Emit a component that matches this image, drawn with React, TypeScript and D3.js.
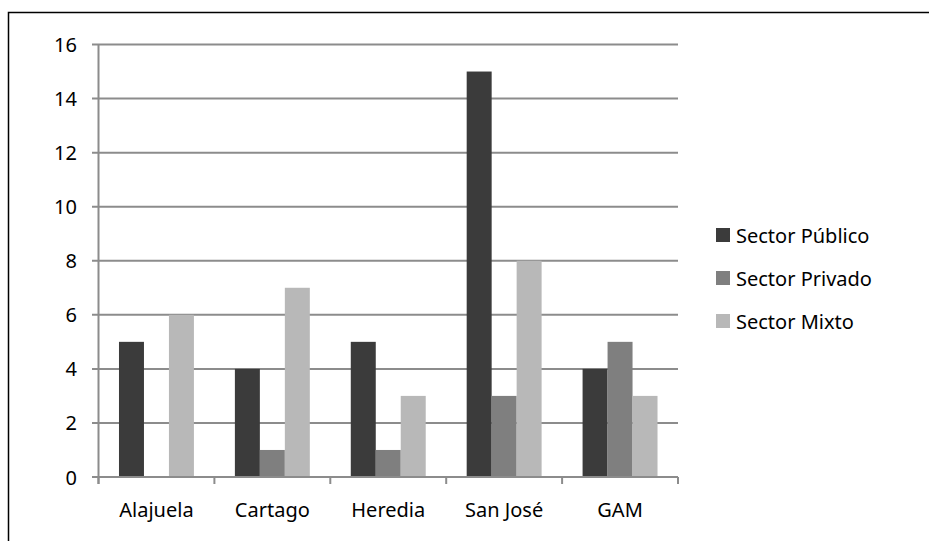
import React from "react";
import * as d3 from "d3";

const categories = ["Alajuela", "Cartago", "Heredia", "San José", "GAM"];
const seriesNames = ["Sector Público", "Sector Privado", "Sector Mixto"];
const publico = [5, 4, 5, 15, 4];
const privado = [0, 1, 1, 3, 5];
const mixto = [6, 7, 3, 8, 3];
const yTicks = [0, 2, 4, 6, 8, 10, 12, 14, 16];
const colors = ["#3b3b3b", "#7f7f7f", "#b8b8b8"];

export default function App() {
  const W = 929, H = 541;
  const left = 98.5, right = 678, top = 44.5, bottom = 477;
  const font = "'Noto Sans', 'Open Sans', sans-serif";
  const series = [publico, privado, mixto];

  const x = d3.scaleBand<string>().domain(categories).range([left, right]).paddingInner(0).paddingOuter(0);
  const inner = d3.scaleBand<number>().domain([0, 1, 2]).range([0, x.bandwidth()]).paddingInner(0).paddingOuter(0.82);
  const y = d3.scaleLinear().domain([0, 16]).range([bottom, top]);

  const catBounds = d3.range(categories.length + 1).map((i) => left + i * x.step());

  return (
    <div style={{ position: "absolute", left: 0, top: 0 }}>
      <svg width={W} height={H} style={{ display: "block", background: "#fff" }} fontFamily={font}>
        <rect x={8.5} y={12.5} width={W + 10} height={H + 10} fill="#fff" stroke="#000" strokeWidth={1.5} />
        {yTicks.map((t) => (
          <g key={t}>
            <line x1={92} x2={right} y1={y(t)} y2={y(t)} stroke="#8c8c8c" strokeWidth={2} />
            <text x={77} y={y(t)} textAnchor="end" dominantBaseline="central" fontSize={20} fill="#000">
              {t}
            </text>
          </g>
        ))}
        {categories.map((c, ci) =>
          series.map((s, si) => (
            s[ci] > 0 ? (
              <rect
                key={c + si}
                x={(x(c) as number) + (inner(si) as number)}
                y={y(s[ci])}
                width={inner.bandwidth()}
                height={y(0) - y(s[ci])}
                fill={colors[si]}
              />
            ) : null
          ))
        )}
        <line x1={left} x2={left} y1={top} y2={bottom + 7} stroke="#8c8c8c" strokeWidth={2} />
        <line x1={left} x2={right} y1={bottom} y2={bottom} stroke="#8c8c8c" strokeWidth={2} />
        {catBounds.map((b, i) => (
          <line key={i} x1={b} x2={b} y1={bottom} y2={bottom + 7} stroke="#8c8c8c" strokeWidth={2} />
        ))}
        {categories.map((c) => (
          <text key={c} x={(x(c) as number) + x.bandwidth() / 2} y={517} textAnchor="middle" fontSize={20} fill="#000">
            {c}
          </text>
        ))}
        {seriesNames.map((n, i) => (
          <g key={n} transform={`translate(716, ${235 + i * 43})`}>
            <rect x={0} y={-7} width={14} height={14} fill={colors[i]} />
            <text x={20} y={0} dominantBaseline="central" fontSize={20} fill="#000">
              {n}
            </text>
          </g>
        ))}
      </svg>
    </div>
  );
}
